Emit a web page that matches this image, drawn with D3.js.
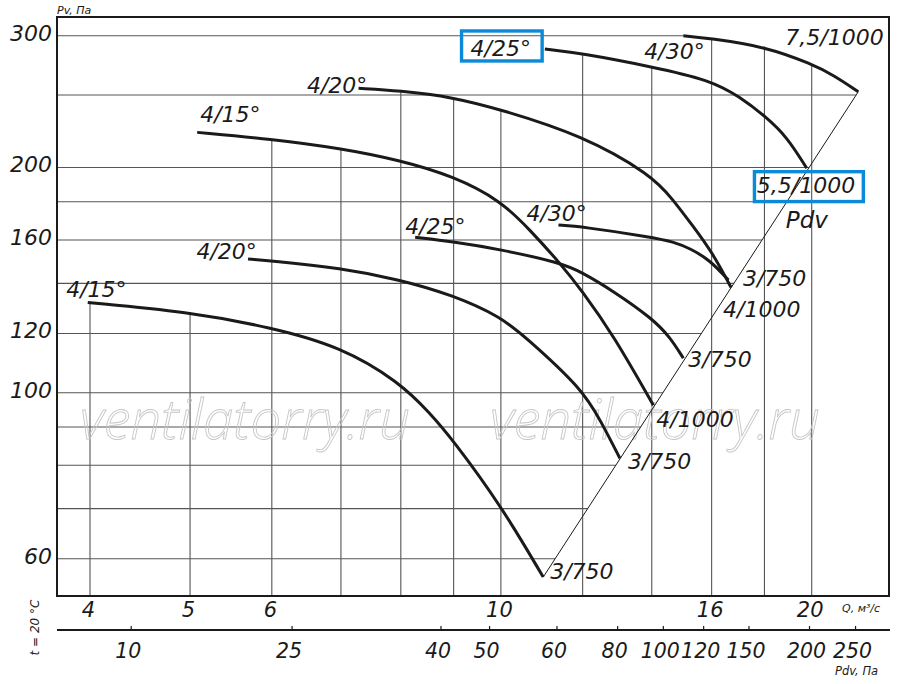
<!DOCTYPE html>
<html><head><meta charset="utf-8">
<script src="https://cdn.jsdelivr.net/npm/d3@7/dist/d3.min.js"></script>
<style>
html,body{margin:0;padding:0;background:#fff;}
svg{display:block;}
</style></head><body>
<svg id="chart" width="900" height="684"></svg>
<script>
// ---------------- data ----------------
const flowTicks = [4, 5, 6, 10, 16, 20];                       // Q, m3/s labels
const flowGrid = [4, 5, 6, 7, 8, 9, 10, 12, 14, 16, 18, 20];    // vertical grid
const pressureTicks = [60, 100, 120, 160, 200, 300];            // Pv labels
const pressureGrid = [60, 70, 80, 90, 100, 120, 140, 160, 180, 200, 250, 300];
const pdvTickLabels = ["10", "25", "40", "50", "60", "80", "100", "120", "150", "200", "250"];
const pdvTickFlow = [4.38, 6.27, 8.74, 9.74, 11.32, 12.96, 14.35, 15.70, 17.37, 19.88, 22.03];

const curveNames = ["4/15°", "4/20°", "4/25°", "4/30°", "4/15°", "4/20°", "4/25°", "4/30°"];
const curveMotors = ["3/750", "3/750", "3/750", "3/750", "4/1000", "4/1000", "5,5/1000", "7,5/1000"];
const curveFlow = [
  [3.98, 4.97, 5.99, 7.00, 7.97, 8.54, 8.99, 10.0, 10.99],
  [5.69, 5.99, 7.00, 7.97, 8.99, 10.0, 10.59, 11.97, 12.50, 13.04],
  [8.26, 8.99, 10.0, 11.41, 11.97, 12.85, 14.0, 14.58, 15.02],
  [11.37, 11.97, 14.0, 14.69, 15.25, 15.94, 16.61],
  [5.08, 5.99, 7.00, 7.97, 8.99, 10.0, 10.67, 11.41, 11.97, 12.85, 14.05],
  [7.28, 7.97, 8.99, 10.0, 11.97, 14.0, 14.69, 15.32, 16.02, 16.71],
  [11.03, 11.97, 14.0, 15.94, 17.04, 18.05, 18.92, 19.78],
  [15.02, 15.94, 18.05, 20.0, 20.99, 22.19]
];
const curvePressure = [
  [132.0, 128.3, 122.3, 115.2, 103.4, 93.9, 86.4, 70.7, 56.7],
  [150.9, 150.1, 146.7, 141.7, 135.0, 126.3, 118.3, 101.4, 91.6, 81.7],
  [161.3, 159.1, 155.4, 149.2, 145.0, 136.7, 125.8, 118.7, 111.2],
  [167.5, 166.7, 161.4, 159.1, 155.9, 150.4, 141.4],
  [222.8, 218.3, 212.1, 204.6, 194.8, 180.6, 165.0, 149.0, 137.1, 119.4, 96.2],
  [255.2, 253.3, 248.3, 239.0, 221.0, 195.4, 180.9, 167.5, 154.1, 138.2],
  [288.0, 284.2, 272.7, 261.8, 248.6, 233.8, 219.9, 199.5],
  [300.0, 297.6, 290.0, 275.0, 265.8, 252.5]
];
const pdvLineFlow = [10.99, 22.19];
const pdvLinePressure = [56.7, 252.5];
const highlighted = [6];           // curve whose labels are boxed
const watermarkText = "ventilatorry.ru";

// ---------------- layout ----------------
const FONT = "'DejaVu Sans', 'Noto Sans', sans-serif";
const frame = {left: 57, top: 17, right: 889, bottom: 596};
const svg = d3.select("#chart");
const x = d3.scaleLog().domain([4, 20]).range([90, 811.7]);
const y = d3.scaleLog().domain([60, 300]).range([558.7, 35.7]);

// label offsets (px) from curve start / end
const startOff = [[-21.6,-5],[-51.6,0],[-10,-3],[-32,-4.5],[3,-10],[-51.6,5],[-74.3,7.5],[-39,23]];
const endOff = [[7,2],[8,11],[5,9],[14.5,5.5],[3,22],[-8,29],[-50,25],[-73,-47]];

const L = Math.log10;
function interp(qs, ps, q) {
  if (q < qs[0] || q > qs[qs.length - 1]) return null;
  for (let j = 0; j < qs.length - 1; j++) {
    if (q >= qs[j] && q <= qs[j + 1]) {
      const t = (L(q) - L(qs[j])) / (L(qs[j + 1]) - L(qs[j]));
      return Math.pow(10, L(ps[j]) + t * (L(ps[j + 1]) - L(ps[j])));
    }
  }
  return null;
}
function pdvFlowAt(p) {
  const t = (L(p) - L(pdvLinePressure[0])) / (L(pdvLinePressure[1]) - L(pdvLinePressure[0]));
  if (t > 1) return null;
  return Math.pow(10, L(pdvLineFlow[0]) + t * (L(pdvLineFlow[1]) - L(pdvLineFlow[0])));
}

// ---------------- grid ----------------
const grid = svg.append("g").attr("stroke", "#555").attr("stroke-width", 1.1);
flowGrid.forEach(q => {
  let top = null;
  curveFlow.forEach((qs, i) => {
    const p = interp(qs, curvePressure[i], q);
    if (p !== null && (top === null || p > top)) top = p;
  });
  grid.append("line").attr("x1", x(q)).attr("x2", x(q))
    .attr("y1", top ? y(top) : frame.top).attr("y2", frame.bottom);
});
const topCurve = d3.maxIndex(curvePressure, ps => ps[0]);
pressureGrid.forEach(p => {
  let q = pdvFlowAt(p);
  if (q === null) q = curveFlow[topCurve][0];
  grid.append("line").attr("x1", frame.left).attr("x2", x(q))
    .attr("y1", y(p)).attr("y2", y(p));
});

// ---------------- watermark ----------------
[80, 490].forEach(wx => {
  svg.append("text").attr("x", wx).attr("y", 439)
    .attr("font-family", "'Open Sans', 'DejaVu Sans', sans-serif").attr("font-style", "italic")
    .attr("font-weight", 300)
    .attr("font-size", 56).attr("textLength", 330).attr("lengthAdjust", "spacingAndGlyphs")
    .attr("fill", "none").attr("stroke", "#c6c6c6").attr("stroke-width", 0.9)
    .text(watermarkText);
});

// ---------------- frame ----------------
svg.append("rect").attr("x", frame.left).attr("y", frame.top)
  .attr("width", frame.right - frame.left).attr("height", frame.bottom - frame.top)
  .attr("fill", "none").attr("stroke", "#1a1a1a").attr("stroke-width", 2);

// ---------------- Pdv line ----------------
svg.append("line")
  .attr("x1", x(pdvLineFlow[0])).attr("y1", y(pdvLinePressure[0]))
  .attr("x2", x(pdvLineFlow[1])).attr("y2", y(pdvLinePressure[1]))
  .attr("stroke", "#1a1a1a").attr("stroke-width", 1);
{
  const p = 170, q = pdvFlowAt(p);
  svg.append("text").attr("x", x(q) + 11).attr("y", y(p) + 8)
    .attr("font-family", FONT).attr("font-style", "italic").attr("font-size", 23)
    .attr("fill", "#1a1a1a").text("Pdv");
}

// ---------------- curves ----------------
const line = d3.line().x(d => x(d[0])).y(d => y(d[1])).curve(d3.curveBasis);
curveFlow.forEach((qs, i) => {
  const pts = qs.map((q, j) => [q, curvePressure[i][j]]);
  svg.append("path").attr("d", line(pts)).attr("fill", "none")
    .attr("stroke", "#1a1a1a").attr("stroke-width", 3);
  const s = pts[0], e = pts[pts.length - 1];
  const sx = x(s[0]), sy = y(s[1]), ex = x(e[0]), ey = y(e[1]);
  svg.append("text").attr("x", sx + startOff[i][0]).attr("y", sy + startOff[i][1])
    .attr("font-family", FONT).attr("font-style", "italic").attr("font-size", 22)
    .attr("fill", "#1a1a1a").text(curveNames[i]);
  svg.append("text").attr("x", ex + endOff[i][0]).attr("y", ey + endOff[i][1])
    .attr("font-family", FONT).attr("font-style", "italic").attr("font-size", 22)
    .attr("fill", "#1a1a1a").text(curveMotors[i]);
  if (highlighted.includes(i)) {
    svg.append("rect").attr("x", sx - 83.3).attr("y", sy - 18).attr("width", 80.6).attr("height", 30)
      .attr("fill", "none").attr("stroke", "#0a8ad8").attr("stroke-width", 3.4);
    svg.append("rect").attr("x", ex - 52.3).attr("y", ey + 3.4).attr("width", 108.9).attr("height", 29.9)
      .attr("fill", "none").attr("stroke", "#0a8ad8").attr("stroke-width", 3.4);
  }
});

// ---------------- axes ----------------
const yAxis = svg.append("g").attr("transform", `translate(52,0)`)
  .call(d3.axisLeft(y).tickValues(pressureTicks).tickSize(0).tickPadding(0).tickFormat(d3.format("d")));
yAxis.select(".domain").remove();
yAxis.attr("font-family", FONT).attr("font-size", 22);
yAxis.selectAll("text").attr("dy", null).attr("y", 4.5).attr("x", 0)
  .attr("font-style", "italic").attr("fill", "#1a1a1a");

const qAxis = svg.append("g").attr("transform", `translate(0,617)`)
  .call(d3.axisBottom(x).tickValues(flowTicks).tickSize(0).tickFormat(d3.format("d")));
qAxis.select(".domain").remove();
qAxis.attr("font-family", FONT).attr("font-size", 21);
qAxis.selectAll("text").attr("dy", null).attr("y", 0).attr("x", -2)
  .attr("font-style", "italic").attr("fill", "#1a1a1a");

svg.append("line").attr("x1", frame.left).attr("x2", frame.right + 1)
  .attr("y1", 630).attr("y2", 630).attr("stroke", "#1a1a1a").attr("stroke-width", 2);
const pAxis = svg.append("g").attr("transform", `translate(0,630)`)
  .call(d3.axisBottom(x).tickValues(pdvTickFlow).tickSizeInner(-4).tickSizeOuter(0)
    .tickFormat((d, i) => pdvTickLabels[i]));
pAxis.select(".domain").remove();
pAxis.attr("font-family", FONT).attr("font-size", 20.5);
pAxis.selectAll(".tick line").attr("stroke", "#1a1a1a").attr("stroke-width", 1.2);
pAxis.selectAll("text").attr("dy", null).attr("y", 28).attr("x", -3)
  .attr("font-style", "italic").attr("fill", "#1a1a1a");

// ---------------- axis titles ----------------
function title(txt, tx, ty, size, anchor) {
  return svg.append("text").attr("x", tx).attr("y", ty).attr("font-family", FONT)
    .attr("font-style", "italic").attr("font-size", size).attr("fill", "#1a1a1a")
    .attr("text-anchor", anchor || "start").text(txt);
}
title("Pv, Па", 57, 14, 11);
title("Q, м³/с", 842, 612, 11);
title("Pdv, Па", 835, 675, 11.5);
title("t = 20 °C", 0, 0, 12, "middle").attr("transform", "translate(39,627.5) rotate(-90)");
</script>
</body></html>
